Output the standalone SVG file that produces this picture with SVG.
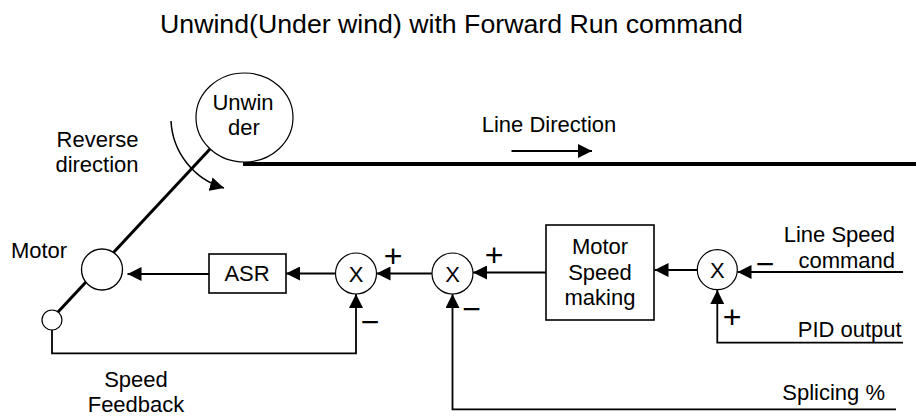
<svg xmlns="http://www.w3.org/2000/svg" width="916" height="416" viewBox="0 0 916 416">
<defs>
<style>
text{font-family:"Liberation Sans",Arial,sans-serif;fill:#000;}
.lbl{font-size:22px;}
.mid{text-anchor:middle;}
.end{text-anchor:end;}
.sign{font-size:32px;text-anchor:middle;}
.title{font-size:26.7px;text-anchor:middle;}
.node{fill:#fff;stroke:#000;stroke-width:1.2;}
.box{fill:#fff;stroke:#000;stroke-width:1.6;}
.conn{fill:none;stroke:#000;stroke-width:1.8;}
.arr{marker-end:url(#ah);}
</style>
<marker id="ah" markerUnits="userSpaceOnUse" markerWidth="14" markerHeight="14" refX="14" refY="7" orient="auto" viewBox="0 0 14 14">
<path d="M0,0 L14,7 L0,14 z" fill="#000"/>
</marker>
</defs>
<rect width="916" height="416" fill="#fff"/>
<text class="title" x="451.5" y="33">Unwind(Under wind) with Forward Run command</text>

<g id="connectors">
<path class="conn" d="M243,164 L916,164" stroke-width="4" style="stroke-width:4"/>
<path class="conn" d="M58,312 L210,149" style="stroke-width:3"/>
<path class="conn arr" d="M171,121 A73.5,73.5 0 0 0 224,188" style="stroke-width:1.5"/>
<path class="conn arr" d="M511.5,151 L592,151"/>
<path class="conn arr" d="M209,274 L127.5,274"/>
<path class="conn arr" d="M335.5,273.5 L286,273.5"/>
<path class="conn arr" d="M432,273.5 L376.5,273.5"/>
<path class="conn arr" d="M546,272.5 L473,272.5"/>
<path class="conn arr" d="M697.3,270 L654.5,270"/>
<path class="conn arr" d="M903,272 L737.5,272"/>
<path class="conn arr" d="M903,342.7 L717.3,342.7 L717.3,290"/>
<path class="conn arr" d="M896,409.3 L452.5,409.3 L452.5,294"/>
<path class="conn arr" d="M52,330 L52,353.3 L356,353.3 L356,294"/>
</g>

<g id="unwinder">
<ellipse class="node" cx="244.5" cy="117.5" rx="48.5" ry="44.5"/>
<text class="lbl mid" x="243" y="110">Unwin</text>
<text class="lbl mid" x="244" y="135">der</text>
</g>

<g id="reverse-label">
<text class="lbl mid" x="97.5" y="146.7">Reverse</text>
<text class="lbl mid" x="97" y="171.7">direction</text>
</g>

<g id="line-direction-label">
<text class="lbl mid" x="549" y="132">Line Direction</text>
</g>

<g id="motor">
<circle class="node" cx="102" cy="269.5" r="20.5" style="stroke-width:1.3"/>
<text class="lbl mid" x="39" y="258.3">Motor</text>
</g>

<g id="encoder">
<circle class="node" cx="52" cy="320" r="10"/>
</g>

<g id="asr">
<rect class="box" x="209" y="254" width="77" height="39"/>
<text class="lbl mid" x="247" y="281">ASR</text>
</g>

<g id="mult1">
<circle class="node" cx="356" cy="273.5" r="20.5"/>
<text class="lbl mid" x="356" y="281.5">X</text>
<text class="sign" x="393" y="266.5">+</text>
<text class="sign" x="370" y="332.5">−</text>
</g>

<g id="mult2">
<circle class="node" cx="452.5" cy="273.5" r="20.5"/>
<text class="lbl mid" x="452.5" y="281.5">X</text>
<text class="sign" x="494" y="265.5">+</text>
<text class="sign" x="471.5" y="320">−</text>
</g>

<g id="motor-speed-making">
<rect class="box" x="546" y="225" width="108" height="95"/>
<text class="lbl mid" x="600" y="253.5">Motor</text>
<text class="lbl mid" x="600" y="279.5">Speed</text>
<text class="lbl mid" x="600" y="304.5">making</text>
</g>

<g id="mult3">
<circle class="node" cx="717.3" cy="269.7" r="20"/>
<text class="lbl mid" x="717.3" y="277.7">X</text>
<text class="sign" x="765" y="274.5">−</text>
<text class="sign" x="732" y="328">+</text>
</g>

<g id="line-speed-command">
<text class="lbl end" x="895" y="241.7">Line Speed</text>
<text class="lbl end" x="895" y="268.3">command</text>
</g>

<g id="pid-output">
<text class="lbl end" x="901.7" y="336.7">PID output</text>
</g>

<g id="splicing">
<text class="lbl end" x="885" y="400">Splicing %</text>
</g>

<g id="speed-feedback">
<text class="lbl mid" x="136" y="386.7">Speed</text>
<text class="lbl mid" x="136" y="411.7">Feedback</text>
</g>
</svg>
